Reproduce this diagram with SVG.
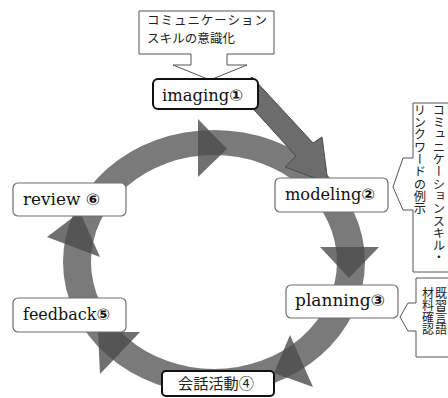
<svg xmlns="http://www.w3.org/2000/svg" width="448" height="398" viewBox="0 0 448 398">
<style>
.ring{fill:#7a7a7a;fill-rule:evenodd}
.head{fill:#4c4c4c;fill-opacity:0.8}
.arrow{fill:#6c6c6c;stroke:#4a4a4a;stroke-width:1}
.box{fill:#fff;stroke:#6e6e6e;stroke-width:1.2}
.boxb{fill:#fff;stroke:#111;stroke-width:2}
.lbl{font-family:"DejaVu Serif","Liberation Serif",serif;font-size:16px;fill:#111}
.num{font-family:"DejaVu Sans","Noto Sans CJK JP",sans-serif;font-weight:bold}
.jp{font-family:"Noto Sans CJK JP","Noto Sans CJK SC",sans-serif;fill:#222}
.call{fill:#fff;stroke:#555;stroke-width:1}
.vt{writing-mode:vertical-rl;font-family:"Noto Sans CJK JP","Noto Sans CJK SC",sans-serif;fill:#222;font-size:12.3px}
</style>
<g id="connectors">
<path class="ring" d="M63,262 a151,132 0 1,0 302,0 a151,132 0 1,0 -302,0 Z M91,262 a123,107 0 1,0 246,0 a123,107 0 1,0 -246,0 Z"/>
<polygon class="head" points="198,119 198,177 227,149"/>
<polygon class="head" points="320,247 379,247 349,278"/>
<polygon class="head" points="290,335 313,387 274,373"/>
<polygon class="head" points="140,332 100,374 98,332"/>
<polygon class="head" points="47,237 100,257 80,212"/>
<polygon class="arrow" points="252,77 313,143 322,137 328,183 285,167 296,156 236,90"/>
</g>
<g id="callout-top">
<path class="call" d="M139,11 H274 V54 H227 V65 H247 L210,80 L173,65 H191 V54 H139 Z"/>
<text class="jp" x="147" y="25" font-size="12.5" textLength="120" lengthAdjust="spacing">コミュニケーション</text>
<text class="jp" x="147" y="43" font-size="12.5" textLength="88" lengthAdjust="spacing">スキルの意識化</text>
</g>
<g id="callout-right1">
<path class="call" d="M452,103 H413 V158 H403 L393,187 L403,210 H413 V272 H452"/>
<text class="vt" x="439" y="104">コミュニケーションスキル・</text>
<text class="vt" x="420" y="104">リンクワードの例示</text>
</g>
<g id="callout-right2">
<path class="call" d="M452,278 H416 V303 H408 L400,317 L408,331 H416 V357 H452"/>
<text class="vt" x="441" y="287" style="font-size:12px">既習言語</text>
<text class="vt" x="428" y="287" style="font-size:12px">材料確認</text>
</g>
<g id="imaging">
<rect class="boxb" x="153" y="79" width="105" height="30" rx="5"/>
<text class="lbl" x="162" y="101" textLength="81" lengthAdjust="spacingAndGlyphs">imaging<tspan class="num">①</tspan></text>
</g>
<g id="modeling">
<rect class="box" x="275" y="178" width="113" height="34" rx="5"/>
<text class="lbl" x="285" y="200" textLength="90" lengthAdjust="spacingAndGlyphs">modeling<tspan class="num">②</tspan></text>
</g>
<g id="planning">
<rect class="box" x="286" y="285" width="112" height="33" rx="5"/>
<text class="lbl" x="295" y="306" textLength="90" lengthAdjust="spacingAndGlyphs">planning<tspan class="num">③</tspan></text>
</g>
<g id="kaiwa">
<rect class="boxb" x="162" y="371" width="112" height="25" rx="4"/>
<text class="jp" x="178" y="389" font-size="15" textLength="76" lengthAdjust="spacingAndGlyphs">会話活動④</text>
</g>
<g id="feedback">
<rect class="box" x="13" y="298" width="113" height="34" rx="5"/>
<text class="lbl" x="23" y="320" textLength="87" lengthAdjust="spacingAndGlyphs">feedback<tspan class="num">⑤</tspan></text>
</g>
<g id="review">
<rect class="box" x="13" y="183" width="113" height="33" rx="5"/>
<text class="lbl" x="23" y="205" textLength="77" lengthAdjust="spacingAndGlyphs">review <tspan class="num">⑥</tspan></text>
</g>
</svg>
